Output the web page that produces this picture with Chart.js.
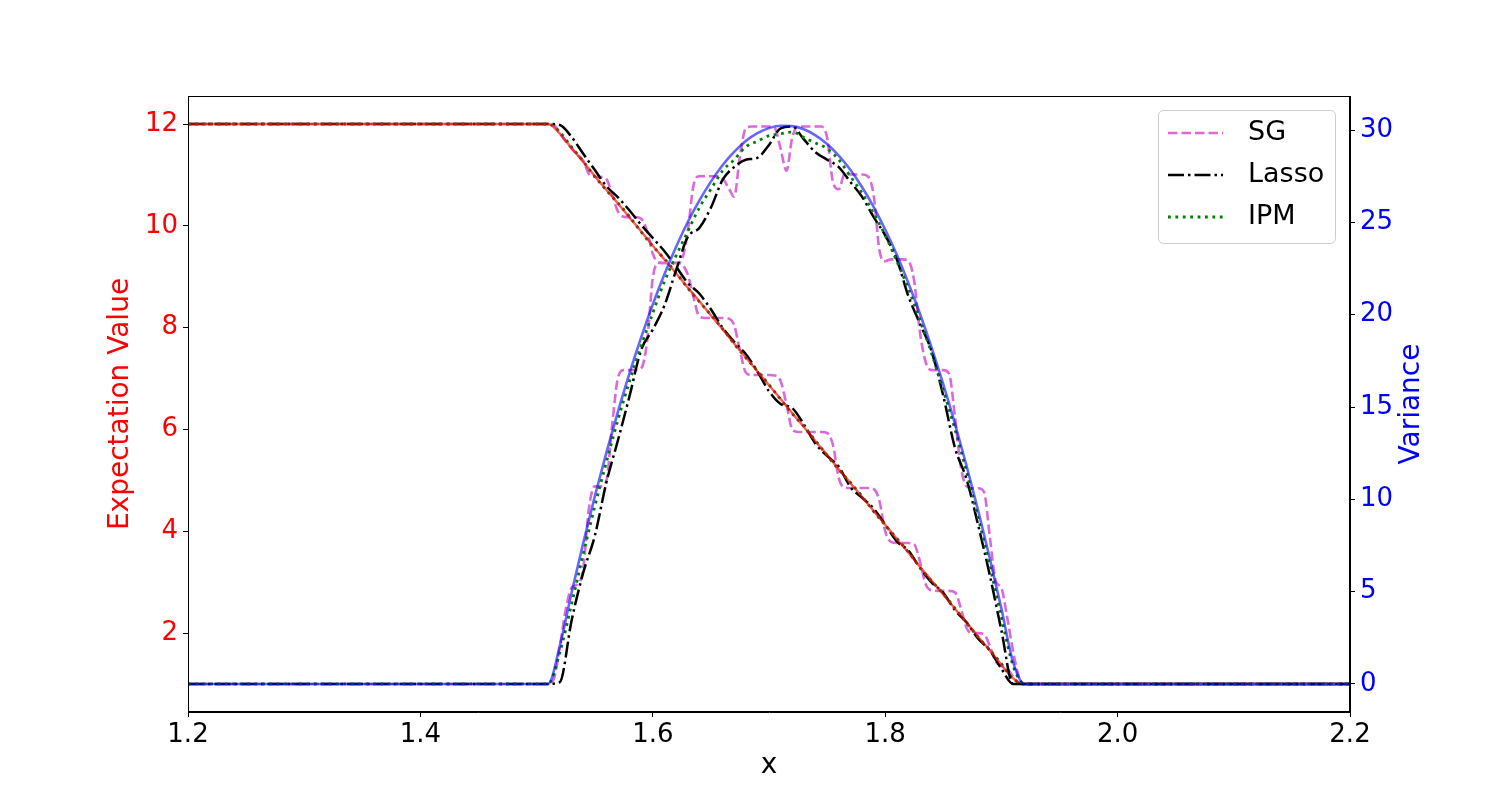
<!DOCTYPE html>
<html>
<head>
<meta charset="utf-8">
<script src="https://cdn.jsdelivr.net/npm/chart.js@4.4.1/dist/chart.umd.min.js"></script>
<style>
  body { margin: 0; background: #fff; }
  canvas { display: block; }
</style>
</head>
<body>
<canvas id="chart" width="1500" height="800"></canvas>
<script>
// x grid for exact / Lasso / IPM (0.01 steps over the shock region)
const xGrid = [1.2,
  1.50, 1.51, 1.52, 1.53, 1.54, 1.55, 1.56, 1.57, 1.58, 1.59,
  1.60, 1.61, 1.62, 1.63, 1.64, 1.65, 1.66, 1.67, 1.68, 1.69,
  1.70, 1.71, 1.72, 1.73, 1.74, 1.75, 1.76, 1.77, 1.78, 1.79,
  1.80, 1.81, 1.82, 1.83, 1.84, 1.85, 1.86, 1.87, 1.88, 1.89,
  1.90, 1.91, 1.92, 1.93,
  2.2];

// finer x grid for the SG staircase
const xFine = [1.2,
  1.500, 1.505, 1.510, 1.515, 1.520, 1.525, 1.530, 1.535, 1.540, 1.545,
  1.550, 1.555, 1.560, 1.565, 1.570, 1.575, 1.580, 1.585, 1.590, 1.595,
  1.600, 1.605, 1.610, 1.615, 1.620, 1.625, 1.630, 1.635, 1.640, 1.645,
  1.650, 1.655, 1.660, 1.665, 1.670, 1.675, 1.680, 1.685, 1.690, 1.695,
  1.700, 1.705, 1.710, 1.715, 1.720, 1.725, 1.730, 1.735, 1.740, 1.745,
  1.750, 1.755, 1.760, 1.765, 1.770, 1.775, 1.780, 1.785, 1.790, 1.795,
  1.800, 1.805, 1.810, 1.815, 1.820, 1.825, 1.830, 1.835, 1.840, 1.845,
  1.850, 1.855, 1.860, 1.865, 1.870, 1.875, 1.880, 1.885, 1.890, 1.895,
  1.900, 1.905, 1.910, 1.915, 1.920, 1.925, 1.930,
  2.2];

// expectation value
const exactE = [12,
  12, 12, 11.81, 11.53, 11.26, 10.98, 10.71, 10.44, 10.16, 9.89,
  9.61, 9.34, 9.07, 8.79, 8.52, 8.24, 7.97, 7.69, 7.42, 7.14,
  6.87, 6.60, 6.32, 6.05, 5.77, 5.50, 5.22, 4.95, 4.68, 4.40,
  4.13, 3.85, 3.58, 3.30, 3.03, 2.76, 2.48, 2.21, 1.93, 1.66,
  1.38, 1.11, 1, 1,
  1];
const lassoE = [12,
  12, 12, 11.98, 11.75, 11.42, 11.10, 10.78, 10.56, 10.30, 10.02,
  9.76, 9.50, 9.20, 8.88, 8.67, 8.36, 8.00, 7.72, 7.48, 7.14,
  6.75, 6.50, 6.42, 6.10, 5.72, 5.48, 5.27, 4.87, 4.66, 4.45,
  4.13, 3.80, 3.62, 3.28, 2.99, 2.79, 2.45, 2.21, 1.89, 1.66,
  1.30, 1.0, 1, 1,
  1];
const ipmE = [12,
  12, 12, 11.84, 11.55, 11.27, 10.97, 10.70, 10.45, 10.18, 9.88,
  9.60, 9.35, 9.08, 8.78, 8.51, 8.25, 7.98, 7.68, 7.41, 7.15,
  6.88, 6.59, 6.31, 6.06, 5.78, 5.49, 5.21, 4.96, 4.69, 4.39,
  4.12, 3.86, 3.59, 3.29, 3.02, 2.77, 2.49, 2.20, 1.92, 1.67,
  1.40, 1.10, 1, 1,
  1];
const sgE = [12,
  12, 12, 12, 11.98, 11.82, 11.66, 11.52, 11.40, 11.28, 11.02,
  10.96, 10.96, 10.92, 10.62, 10.28, 10.18, 10.17, 10.17, 10.14, 9.90,
  9.45, 9.28, 9.27, 9.27, 9.27, 9.24, 9.05, 8.60, 8.22, 8.19,
  8.19, 8.19, 8.19, 8.18, 8.05, 7.55, 7.12, 7.07, 7.07, 7.07,
  7.07, 7.06, 6.95, 6.50, 6.00, 5.95, 5.95, 5.95, 5.95, 5.95,
  5.93, 5.70, 5.05, 4.86, 4.85, 4.85, 4.85, 4.85, 4.83, 4.60,
  4.00, 3.79, 3.77, 3.77, 3.77, 3.74, 3.40, 2.95, 2.84, 2.83,
  2.83, 2.83, 2.80, 2.50, 2.10, 2.00, 2.00, 1.98, 1.75, 1.45,
  1.35, 1.30, 1.15, 1.02, 1.00, 1, 1,
  1];

// variance
const exactV = [0,
  0, 0, 2.08, 4.91, 7.60, 10.14, 12.52, 14.75, 16.84, 18.77,
  20.56, 22.19, 23.67, 25.01, 26.18, 27.21, 28.10, 28.82, 29.41, 29.84,
  30.11, 30.24, 30.22, 30.05, 29.72, 29.25, 28.62, 27.85, 26.92, 25.85,
  24.62, 23.25, 21.71, 20.04, 18.21, 16.23, 14.10, 11.82, 9.39, 6.81,
  4.08, 1.20, 0, 0,
  0];
const lassoV = [0,
  0, 0, 0.1, 3.4, 6.0, 8.0, 10.9, 13.2, 15.6, 18.1,
  19.2, 20.5, 22.4, 24.2, 24.7, 25.8, 27.3, 28.0, 28.4, 28.5,
  29.2, 30.1, 30.2, 29.5, 28.8, 28.4, 28.0, 27.2, 26.4, 25.3,
  24.3, 23.0, 21.0, 19.5, 18.0, 15.6, 12.8, 11.1, 8.6, 5.9,
  2.9, 0.0, 0, 0,
  0];
const ipmV = [0,
  0, 0, 1.7, 4.3, 7.0, 9.6, 12.0, 14.3, 16.4, 18.3,
  20.1, 21.8, 23.2, 24.5, 25.8, 26.8, 27.8, 28.4, 29.1, 29.4,
  29.7, 29.8, 29.9, 29.6, 29.3, 29.0, 28.4, 27.5, 26.6, 25.5,
  24.3, 22.9, 21.4, 19.7, 17.9, 15.9, 13.8, 11.5, 9.0, 6.4,
  3.6, 1.0, 0, 0,
  0];
const sgV = [0,
  0, 0, 0, 0.3, 2.0, 4.0, 5.2, 5.4, 6.2, 9.5,
  10.7, 10.7, 11.0, 14.0, 16.6, 17.0, 17.0, 17.0, 17.1, 18.5,
  22.0, 22.8, 22.8, 22.8, 22.8, 23.0, 24.5, 27.0, 27.5, 27.5,
  27.5, 27.5, 27.4, 26.9, 26.4, 28.6, 30.1, 30.2, 30.2, 30.2,
  30.2, 30.1, 29.0, 27.8, 29.6, 30.2, 30.2, 30.2, 30.2, 30.2,
  29.6, 27.2, 26.8, 27.6, 27.6, 27.6, 27.6, 27.5, 26.5, 23.5,
  22.9, 23.0, 23.0, 23.0, 22.9, 21.8, 19.0, 17.4, 17.0, 17.0,
  17.0, 16.8, 14.5, 11.8, 10.7, 10.6, 10.6, 10.4, 8.0, 5.6,
  5.2, 3.6, 1.8, 0.4, 0, 0, 0,
  0];

const xTicks = [1.2, 1.4, 1.6, 1.8, 2.0, 2.2];
const eTicks = [2, 4, 6, 8, 10, 12];
const vTicks = [0, 5, 10, 15, 20, 25, 30];

const FONT = "'DejaVu Sans', sans-serif";
Chart.defaults.font.family = FONT;

const sgStyle = { borderColor: '#da6ada', borderWidth: 2.6, borderDash: [9.5, 4] };
const lassoStyle = { borderColor: '#000000', borderWidth: 2.5, borderDash: [16, 4, 2.5, 4] };
const ipmStyle = { borderColor: '#008000', borderWidth: 2.8, borderDash: [2.8, 4.6] };

const pts = (xs, ys) => xs.map((x, i) => ({ x: x, y: ys[i] }));

function line(label, xs, ys, axis, style, order) {
  return Object.assign({
    label: label,
    data: pts(xs, ys),
    yAxisID: axis,
    pointRadius: 0,
    fill: false,
    cubicInterpolationMode: 'monotone',
    order: order
  }, style);
}

const frame = {
  id: 'frame',
  afterDatasetsDraw(chart) {
    const { ctx, chartArea: a } = chart;
    ctx.save();
    ctx.strokeStyle = '#000';
    ctx.lineWidth = 1;
    ctx.strokeRect(a.left + 0.5, a.top + 0.5, a.right - a.left - 1, a.bottom - a.top - 1);
    ctx.restore();
  }
};

const extras = {
  id: 'extras',
  afterDraw(chart) {
    const ctx = chart.ctx;
    ctx.save();
    // right axis title, reads bottom to top
    ctx.translate(1412, 404);
    ctx.rotate(-Math.PI / 2);
    ctx.fillStyle = '#0000ff';
    ctx.font = '28px ' + FONT;
    ctx.textAlign = 'center';
    ctx.textBaseline = 'middle';
    ctx.fillText('Variance', 0, 0);
    ctx.restore();

    // legend box
    ctx.save();
    ctx.beginPath();
    ctx.roundRect(1158.5, 110.5, 177, 133, 5);
    ctx.fillStyle = 'rgba(255,255,255,0.8)';
    ctx.fill();
    ctx.strokeStyle = '#cccccc';
    ctx.lineWidth = 1;
    ctx.stroke();
    const rows = [['SG', sgStyle], ['Lasso', lassoStyle], ['IPM', ipmStyle]];
    rows.forEach((r, i) => {
      const y = 133 + i * 42;
      ctx.setLineDash(r[1].borderDash);
      ctx.strokeStyle = r[1].borderColor;
      ctx.lineWidth = r[1].borderWidth;
      ctx.beginPath();
      ctx.moveTo(1168, y);
      ctx.lineTo(1223, y);
      ctx.stroke();
      ctx.setLineDash([]);
      ctx.fillStyle = '#000';
      ctx.font = '27px ' + FONT;
      ctx.textBaseline = 'middle';
      ctx.fillText(r[0], 1248, y);
    });
    ctx.restore();
  }
};

const tickGrid = { display: true, drawOnChartArea: false, drawTicks: true, tickLength: 5, color: '#000', lineWidth: 1 };
const border = { display: true, color: '#000', width: 1 };

new Chart(document.getElementById('chart'), {
  type: 'line',
  data: {
    datasets: [
      line('Exact variance', xGrid, exactV, 'y2', { borderColor: 'rgba(0,0,255,0.6)', borderWidth: 2.6 }, 0),
      line('IPM variance', xGrid, ipmV, 'y2', ipmStyle, 1),
      line('Lasso variance', xGrid, lassoV, 'y2', lassoStyle, 2),
      line('SG variance', xFine, sgV, 'y2', sgStyle, 3),
      line('Exact expectation', xGrid, exactE, 'y', { borderColor: 'rgba(255,0,0,0.65)', borderWidth: 2.4 }, 4),
      line('IPM', xGrid, ipmE, 'y', ipmStyle, 5),
      line('Lasso', xGrid, lassoE, 'y', lassoStyle, 6),
      line('SG', xFine, sgE, 'y', sgStyle, 7)
    ]
  },
  options: {
    responsive: false,
    animation: false,
    devicePixelRatio: 1,
    layout: { padding: { left: 0, right: 0, top: 96, bottom: 0 } },
    plugins: { legend: { display: false }, tooltip: { enabled: false } },
    scales: {
      x: {
        type: 'linear',
        position: 'bottom',
        min: 1.2,
        max: 2.2,
        afterBuildTicks: s => { s.ticks = xTicks.map(v => ({ value: v })); },
        afterFit: s => { s.height = 88; },
        ticks: { color: '#000', font: { size: 26 }, padding: 3, maxRotation: 0, callback: v => v.toFixed(1) },
        grid: tickGrid,
        border: border,
        title: { display: true, text: 'x', color: '#000', font: { size: 28 }, padding: { top: 0, bottom: 17 } }
      },
      y: {
        type: 'linear',
        position: 'left',
        min: 0.45,
        max: 12.55,
        afterBuildTicks: s => { s.ticks = eTicks.map(v => ({ value: v })); },
        afterFit: s => { s.width = 188; },
        ticks: { color: '#ff0000', font: { size: 26 }, padding: 5, callback: v => String(v) },
        grid: tickGrid,
        border: border,
        title: { display: true, text: 'Expectation Value', color: '#ff0000', font: { size: 28 }, padding: { top: 104, bottom: 0 } }
      },
      y2: {
        type: 'linear',
        position: 'right',
        min: -1.52,
        max: 31.85,
        afterBuildTicks: s => { s.ticks = vTicks.map(v => ({ value: v })); },
        afterFit: s => { s.width = 150; },
        ticks: { color: '#0000ff', font: { size: 26 }, padding: 5, callback: v => String(v) },
        grid: tickGrid,
        border: border
      }
    }
  },
  plugins: [frame, extras]
});
</script>
</body>
</html>
